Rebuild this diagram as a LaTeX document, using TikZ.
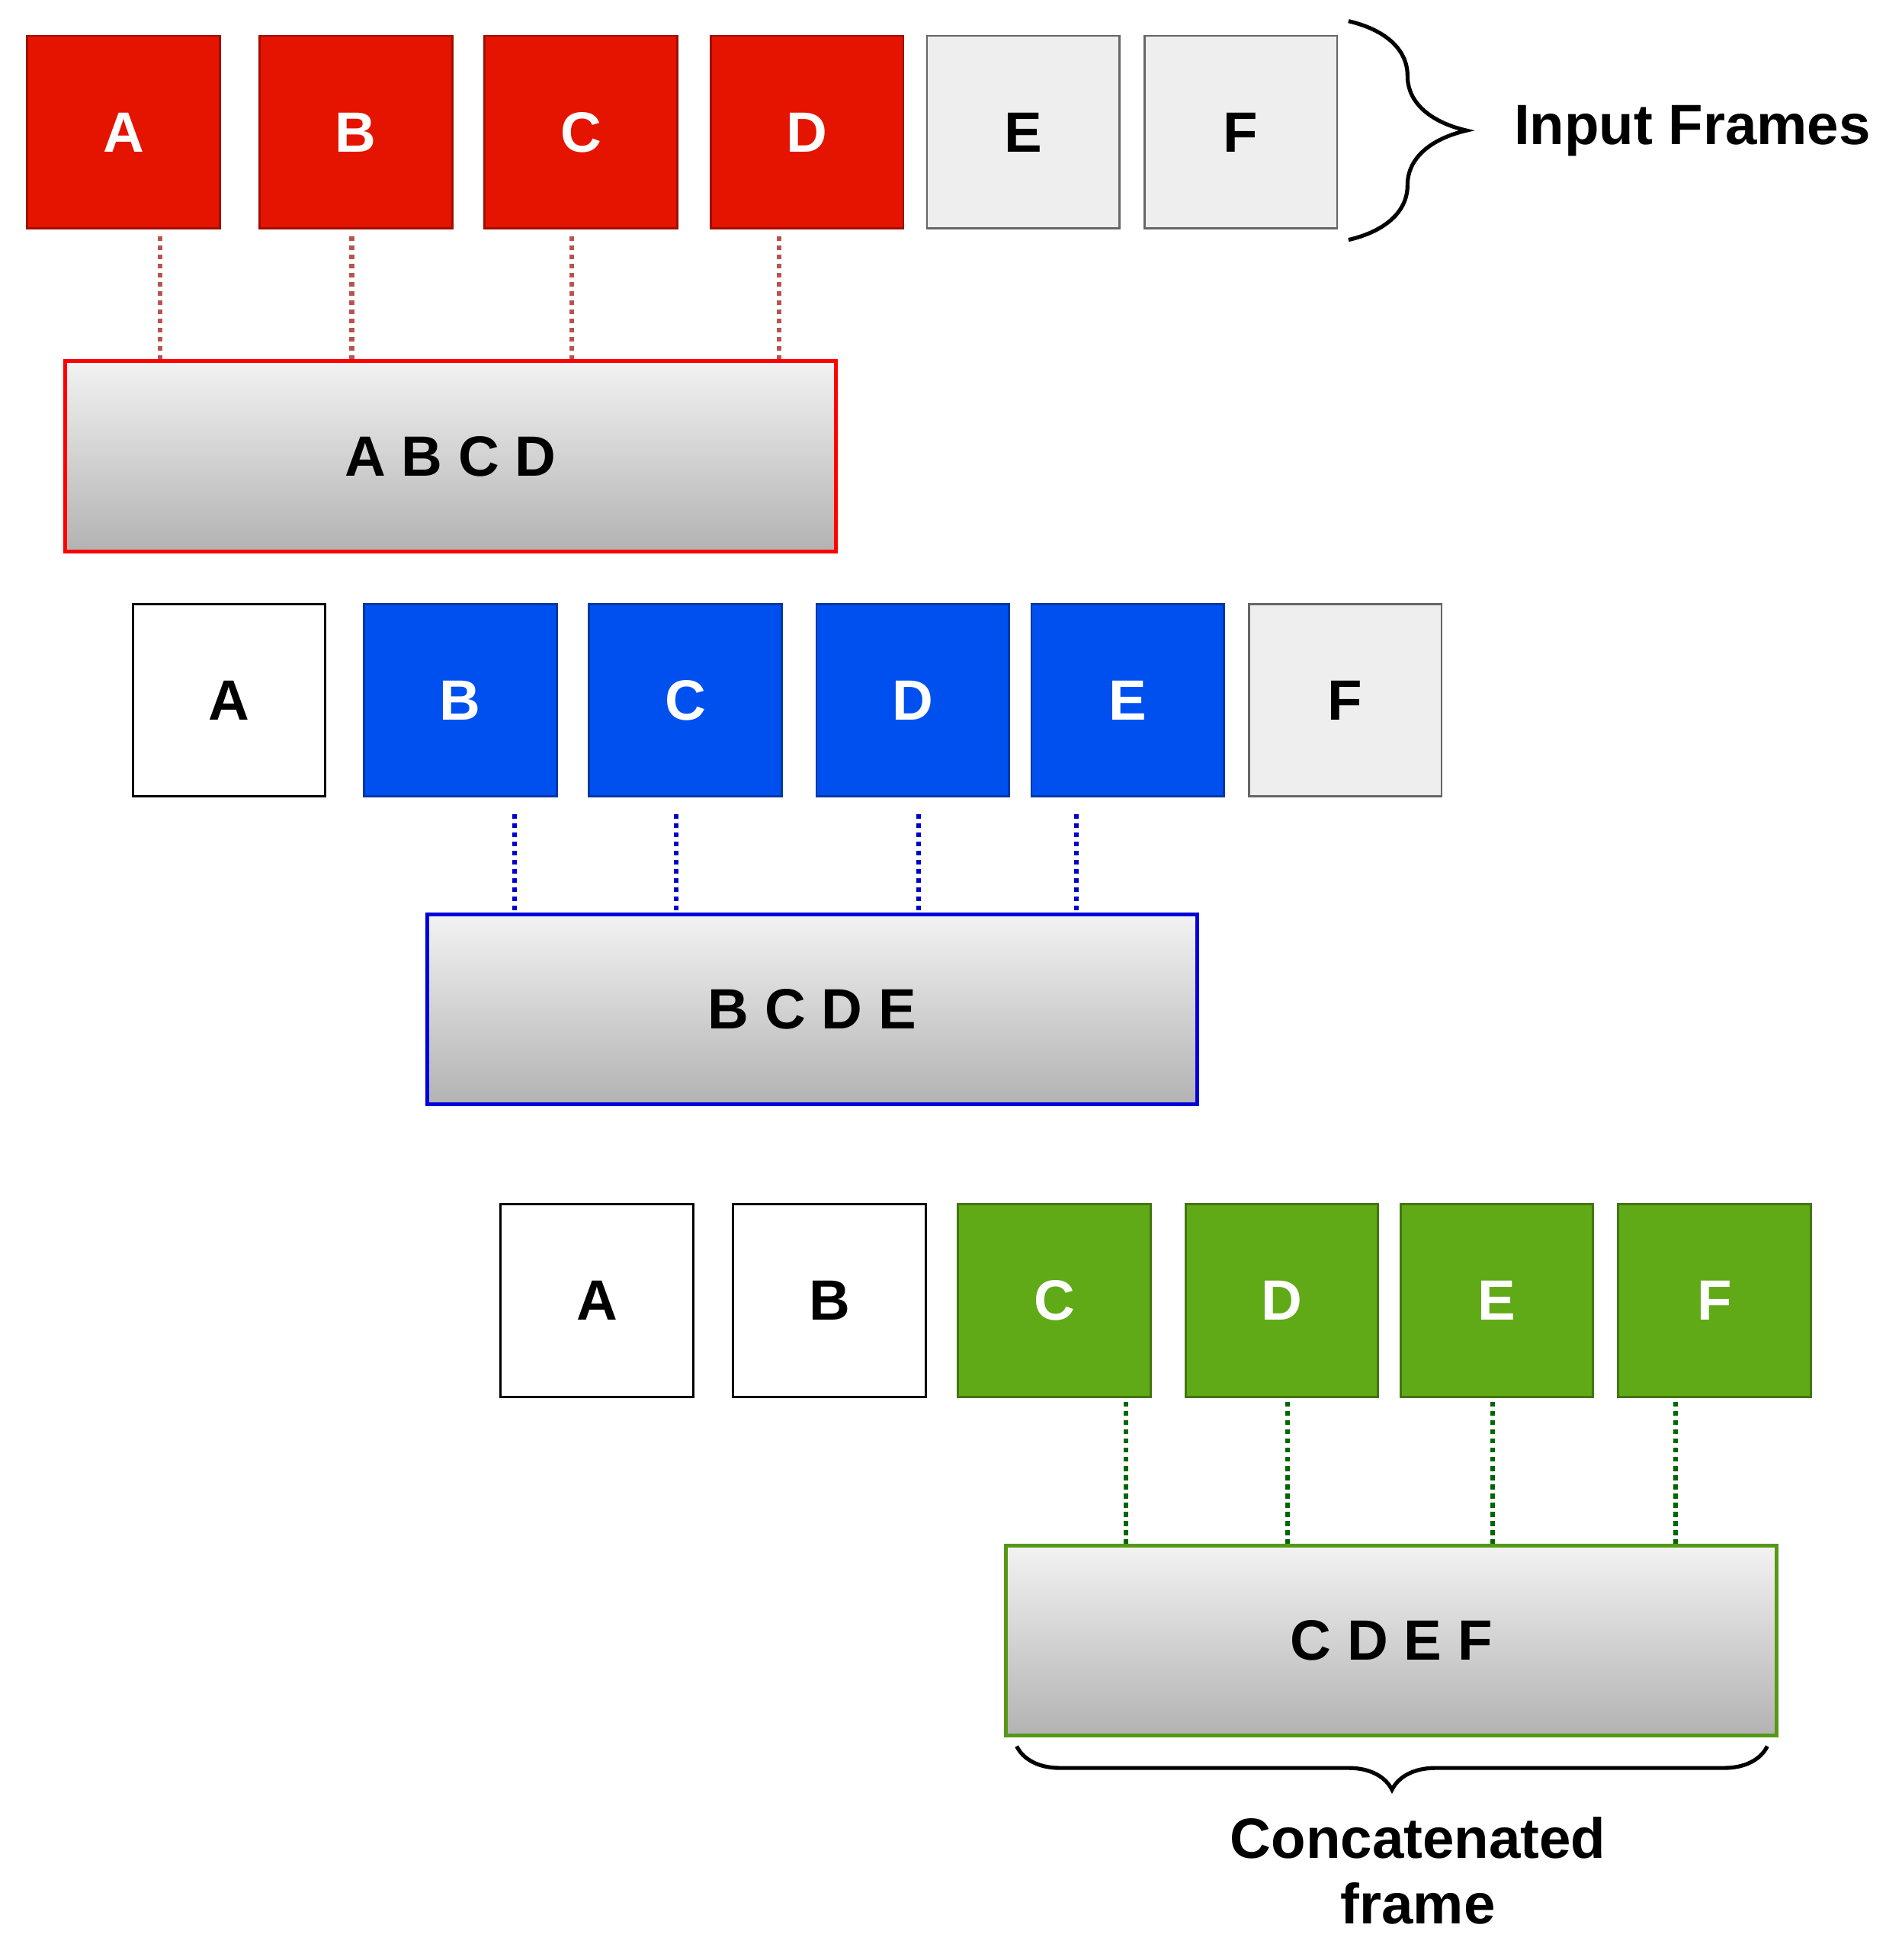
\documentclass[tikz,border=0pt]{standalone}
\usepackage{fontspec}
\setmainfont{Liberation Sans}
\usetikzlibrary{decorations.pathreplacing}
\definecolor{redf}{HTML}{E51400}
\definecolor{bluef}{HTML}{0050EF}
\definecolor{greenf}{HTML}{60A917}
\definecolor{greyf}{HTML}{EEEEEE}
\definecolor{dotred}{HTML}{B85450}
\begin{document}
\begin{tikzpicture}[x=0.02cm,y=-0.02cm,
  fr/.style={draw,line width=1pt,minimum width=3.1cm,minimum height=3.1cm,inner sep=0,anchor=north west,font=\bfseries\fontsize{26}{30}\selectfont},
  red/.style={fr,fill=redf,draw=redf!70!black,text=white},
  blue/.style={fr,fill=bluef,draw=bluef!70!black,text=white},
  green/.style={fr,fill=greenf,draw=greenf!70!black,text=white},
  grey/.style={fr,fill=greyf,draw=black!60},
  white/.style={fr,fill=white,draw=black},
  cat/.style={line width=1.8pt,minimum width=12.4cm,minimum height=3.06cm,inner sep=0,anchor=north west,top color=white!95!black,bottom color=black!30,font=\bfseries\fontsize{26}{30}\selectfont},
  dots/.style={line width=2.2pt,dotted},
  lab/.style={font=\bfseries\fontsize{26}{30}\selectfont,align=center}]
\useasboundingbox (0,0) rectangle (1530,1577);
% first window
\node[red] (A1) at (21,28) {A};
\node[red] (B1) at (208,28) {B};
\node[red] (C1) at (389,28) {C};
\node[red] (D1) at (571,28) {D};
\node[grey] (E1) at (745,28) {E};
\node[grey] (F1) at (920,28) {F};
\node[cat,draw=red] (Q1) at (51,289) {A B C D};
\draw[dots,dotred] (129,190)--(129,289) (283,190)--(283,289) (460,190)--(460,289) (627,190)--(627,289);
\draw[line width=1.8pt,decorate,decoration={brace,amplitude=1.9cm}] (1085,17) coordinate (T1) -- (1085,193) coordinate (T2);
\node[lab,anchor=west] (L1) at (1212,105) {Input Frames};
% second window
\node[white] (A2) at (106,485) {A};
\node[blue] (B2) at (292,485) {B};
\node[blue] (C2) at (473,485) {C};
\node[blue] (D2) at (656,485) {D};
\node[blue] (E2) at (829,485) {E};
\node[grey] (F2) at (1004,485) {F};
\node[cat,draw=blue!85!black] (Q2) at (342,734) {B C D E};
\draw[dots,blue!80!black] (414,655)--(414,734) (544,655)--(544,734) (739,655)--(739,734) (866,655)--(866,734);
% third window
\node[white] (A3) at (402,968) {A};
\node[white] (B3) at (589,968) {B};
\node[green] (C3) at (770,968) {C};
\node[green] (D3) at (953,968) {D};
\node[green] (E3) at (1126,968) {E};
\node[green] (F3) at (1301,968) {F};
\node[cat,draw=greenf!90!black] (Q3) at (808,1242) {C D E F};
\draw[dots,green!40!black] (906,1128)--(906,1242) (1036,1128)--(1036,1242) (1201,1128)--(1201,1242) (1348,1128)--(1348,1242);
\draw[line width=1.8pt,decorate,decoration={brace,amplitude=0.7cm}] (1422,1405) coordinate (T3) -- (818,1405) coordinate (T4);
\node[lab] (L2) at (1141,1505) {Concatenated\\frame};
\end{tikzpicture}
\end{document}
